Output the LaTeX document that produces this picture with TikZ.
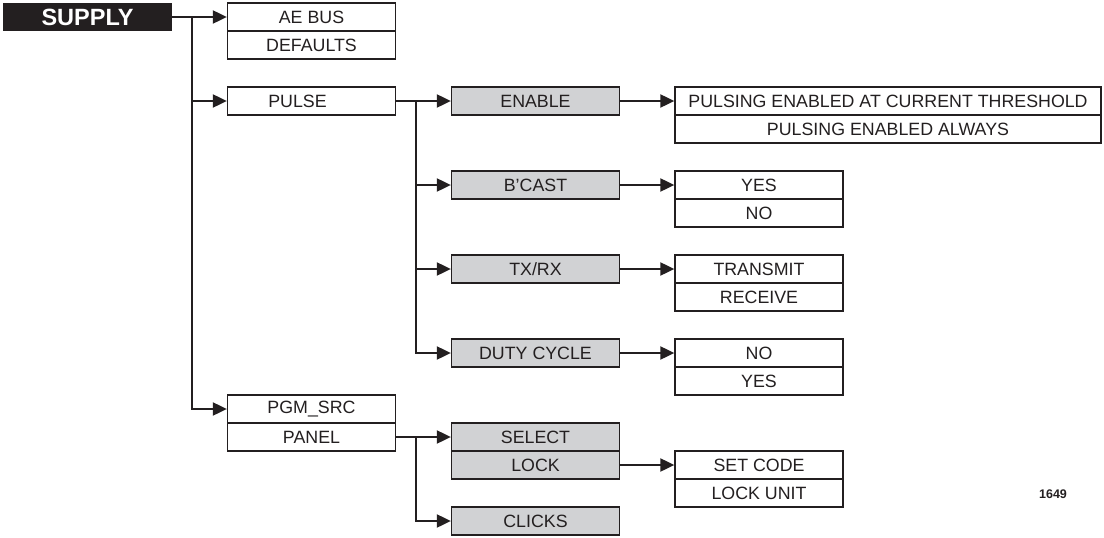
\documentclass[tikz,border=0pt]{standalone}
\usepackage{fontspec}
\setmainfont{Liberation Sans}
\usetikzlibrary{arrows.meta}

\definecolor{inkblack}{HTML}{231F20}
\definecolor{boxgray}{HTML}{D1D2D4}

\tikzset{
  menubox/.style={draw=inkblack, line width=1.3pt, fill=white, inner sep=0pt,
    minimum width=168pt, minimum height=28pt, text=inkblack,
    font=\fontsize{17.8}{19}\selectfont},
  choicebox/.style={menubox, fill=boxgray},
  widebox/.style={menubox, minimum width=426pt},
  conn/.style={draw=inkblack, line width=2pt,
    -{Triangle[length=14pt,width=13pt]}},
  trunk/.style={draw=inkblack!85, line width=1.6pt}
}

\begin{document}
\begin{tikzpicture}[x=1pt,y=-1pt]
\useasboundingbox (0,0) rectangle (1104,538);

\node [fill=inkblack, text=white, minimum width=169pt, minimum height=28pt,
  inner sep=0pt, font=\fontsize{23.5}{25}\selectfont\bfseries] (supply) at (87.5,17) {SUPPLY};

% first column
\node [menubox] (aebus) at (311.5,17) {AE BUS};
\node [menubox] (defaults) at (311.5,45) {DEFAULTS};
\node [menubox] (pulse) at (311.5,101) {PULSE\hspace*{28pt}};
\node [menubox] (pgmsrc) at (311.5,409) {PGM\_SRC};
\node [menubox] (panel) at (311.5,437) {PANEL};

% second column
\node [choicebox] (enable) at (535.5,101) {ENABLE};
\node [choicebox] (bcast) at (535.5,185) {B'CAST};
\node [choicebox] (txrx) at (535.5,269) {TX/RX};
\node [choicebox] (duty) at (535.5,353) {DUTY CYCLE};
\node [choicebox] (select) at (535.5,437) {SELECT};
\node [choicebox] (lock) at (535.5,465) {LOCK};
\node [choicebox] (clicks) at (535.5,521) {CLICKS};

% third column
\node [widebox] (atthresh) at (888,101) {PULSING ENABLED AT CURRENT THRESHOLD};
\node [widebox] (always) at (888,129) {PULSING ENABLED ALWAYS};
\node [menubox] (bcastyes) at (759,185) {YES};
\node [menubox] (bcastno) at (759,213) {NO};
\node [menubox] (transmit) at (759,269) {TRANSMIT};
\node [menubox] (receive) at (759,297) {RECEIVE};
\node [menubox] (dutyno) at (759,353) {NO};
\node [menubox] (dutyyes) at (759,381) {YES};
\node [menubox] (setcode) at (759,465) {SET CODE};
\node [menubox] (lockunit) at (759,493) {LOCK UNIT};

\node [text=inkblack, font=\fontsize{12.5}{14}\selectfont\bfseries] (fignum) at (1053,494) {1649};

% connectors
\coordinate (supplyfork) at (192,17);
\coordinate (pulsefork) at (416,101);
\coordinate (panelfork) at (416,437);

\draw [conn] (supply) -- (aebus);
\draw [trunk] (supplyfork) -- (192,409);
\draw [conn] (supplyfork) |- (pulse);
\draw [conn] (supplyfork) |- (pgmsrc);

\draw [conn] (pulse) -- (enable);
\draw [trunk] (pulsefork) -- (416,353);
\draw [conn] (pulsefork) |- (bcast);
\draw [conn] (pulsefork) |- (txrx);
\draw [conn] (pulsefork) |- (duty);

\draw [conn] (panel) -- (select);
\draw [trunk] (panelfork) -- (416,521);
\draw [conn] (panelfork) |- (clicks);

\draw [conn] (enable) -- (atthresh);
\draw [conn] (bcast) -- (bcastyes);
\draw [conn] (txrx) -- (transmit);
\draw [conn] (duty) -- (dutyno);
\draw [conn] (lock) -- (setcode);

\end{tikzpicture}
\end{document}
